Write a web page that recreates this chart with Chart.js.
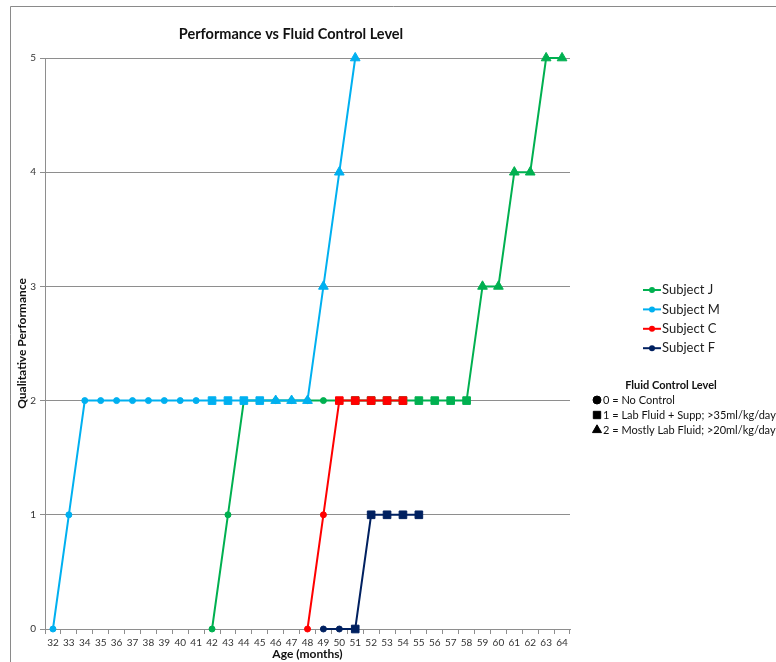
<!DOCTYPE html>
<html>
<head>
<meta charset="utf-8">
<title>Performance vs Fluid Control Level</title>
<script src="https://cdn.jsdelivr.net/npm/chart.js@4/dist/chart.umd.min.js"></script>
<style>
  html, body { margin: 0; padding: 0; background: #fff; }
  #wrap { position: relative; width: 776px; height: 662px; }
</style>
</head>
<body>
<div id="wrap"><canvas id="chart" width="776" height="662"></canvas></div>
<script>
// Age in months (x categories)
const months = ['32','33','34','35','36','37','38','39','40','41','42','43','44','45','46','47',
                '48','49','50','51','52','53','54','55','56','57','58','59','60','61','62','63','64'];

// Qualitative performance per month (null = no observation)
//                 32    33    34    35    36    37    38    39    40    41    42 43 44 45 46 47 48 49 50 51 52 53 54 55 56 57 58 59 60 61 62 63 64
const subjectJ = [null, null, null, null, null, null, null, null, null, null, 0, 1, 2, 2, 2, 2, 2, 2, 2, 2, 2, 2, 2, 2, 2, 2, 2, 3, 3, 4, 4, 5, 5];
const subjectM = [0, 1, 2, 2, 2, 2, 2, 2, 2, 2, 2, 2, 2, 2, 2, 2, 2, 3, 4, 5, null, null, null, null, null, null, null, null, null, null, null, null, null];
const subjectC = [null, null, null, null, null, null, null, null, null, null, null, null, null, null, null, null, 0, 1, 2, 2, 2, 2, 2, null, null, null, null, null, null, null, null, null, null];
const subjectF = [null, null, null, null, null, null, null, null, null, null, null, null, null, null, null, null, null, 0, 0, 0, 1, 1, 1, 1, null, null, null, null, null, null, null, null, null];

// Fluid control level at each observation (0, 1 or 2)
const levelJ = [null, null, null, null, null, null, null, null, null, null, 0, 0, 0, 0, 0, 0, 0, 0, 0, 1, 1, 1, 1, 1, 1, 1, 1, 2, 2, 2, 2, 2, 2];
const levelM = [0, 0, 0, 0, 0, 0, 0, 0, 0, 0, 1, 1, 1, 1, 2, 2, 2, 2, 2, 2, null, null, null, null, null, null, null, null, null, null, null, null, null];
const levelC = [null, null, null, null, null, null, null, null, null, null, null, null, null, null, null, null, 0, 0, 1, 1, 1, 1, 1, null, null, null, null, null, null, null, null, null, null];
const levelF = [null, null, null, null, null, null, null, null, null, null, null, null, null, null, null, null, null, 0, 0, 1, 1, 1, 1, 1, null, null, null, null, null, null, null, null, null];

const yTicks = [0, 1, 2, 3, 4, 5];

const levelNames = ['0 = No Control', '1 = Lab Fluid + Supp; >35ml/kg/day', '2 = Mostly Lab Fluid; >20ml/kg/day'];
const levelStyles = ['circle', 'rect', 'triangle'];
const levelRadius = [3, 5.4, 5.6];

const FONT = 'Lato, "Open Sans", sans-serif';
const GRID = '#8e8e8e';

function seriesDataset(label, values, levels, color, order) {
  return {
    label,
    data: values,
    borderColor: color,
    backgroundColor: color,
    borderWidth: 2,
    order,
    clip: false,
    pointStyle: levels.map(l => l === null ? 'circle' : levelStyles[l]),
    pointRadius: levels.map(l => l === null ? 0 : levelRadius[l]),
    pointHoverRadius: levels.map(l => l === null ? 0 : levelRadius[l]),
    pointBorderWidth: 1,
    pointBorderColor: color,
    pointBackgroundColor: color,
    tension: 0,
    spanGaps: false
  };
}

// Frame, series key and fluid-level key drawn around the plot
const keyPlugin = {
  id: 'sideKey',
  beforeDraw(chart) {
    const ctx = chart.ctx;
    ctx.save();
    ctx.strokeStyle = '#8a8a8a';
    ctx.lineWidth = 1;
    ctx.beginPath();
    ctx.moveTo(10.5, 662);
    ctx.lineTo(10.5, 6.5);
    ctx.lineTo(776, 6.5);
    ctx.stroke();
    ctx.restore();
  },
  afterDraw(chart) {
    const ctx = chart.ctx;
    const draw = Chart.helpers.drawPoint;
    ctx.save();
    ctx.textBaseline = 'middle';
    ctx.textAlign = 'left';
    ctx.font = '13px ' + FONT;
    const x0 = 643, y0 = 290, gap = 19.4;
    chart.data.datasets.forEach((ds, i) => {
      const y = y0 + i * gap;
      ctx.strokeStyle = ds.borderColor;
      ctx.lineWidth = 2;
      ctx.beginPath();
      ctx.moveTo(x0, y);
      ctx.lineTo(x0 + 18, y);
      ctx.stroke();
      ctx.fillStyle = ds.borderColor;
      ctx.beginPath();
      ctx.arc(x0 + 9, y, 3, 0, Math.PI * 2);
      ctx.fill();
      ctx.fillStyle = '#222';
      ctx.fillText(ds.label, x0 + 19, y);
    });

    ctx.font = 'bold 11px ' + FONT;
    ctx.textAlign = 'center';
    ctx.fillStyle = '#111';
    ctx.fillText('Fluid Control Level', 671, 385);

    ctx.font = '11px ' + FONT;
    ctx.textAlign = 'left';
    levelNames.forEach((name, i) => {
      const y = 400 + i * 15;
      ctx.fillStyle = '#000';
      ctx.strokeStyle = '#000';
      ctx.lineWidth = 1;
      draw(ctx, { pointStyle: levelStyles[i], radius: [4, 5.2, 5.2][i], rotation: 0, borderWidth: 1 }, 597, y);
      ctx.fillStyle = '#111';
      ctx.fillText(name, 603, y);
    });
    ctx.restore();
  }
};

new Chart(document.getElementById('chart'), {
  type: 'line',
  data: {
    labels: months,
    datasets: [
      seriesDataset('Subject J', subjectJ, levelJ, '#00b050', 4),
      seriesDataset('Subject M', subjectM, levelM, '#00b0f0', 3),
      seriesDataset('Subject C', subjectC, levelC, '#ff0000', 2),
      seriesDataset('Subject F', subjectF, levelF, '#002060', 1)
    ]
  },
  options: {
    responsive: false,
    animation: false,
    layout: { padding: { left: 12, right: 206, top: 0, bottom: 0 } },
    plugins: {
      legend: { display: false },
      tooltip: { enabled: false },
      title: {
        display: true,
        text: 'Performance vs Fluid Control Level',
        color: '#111',
        font: { family: FONT, size: 14.5, weight: 'bold' },
        padding: { top: 26, bottom: 14.6 }
      }
    },
    scales: {
      x: {
        type: 'category',
        offset: true,
        grid: {
          offset: true,
          drawOnChartArea: false,
          drawTicks: true,
          tickLength: 5,
          color: GRID
        },
        border: { display: true, color: GRID, width: 1 },
        ticks: {
          autoSkip: false,
          maxRotation: 0,
          minRotation: 0,
          padding: 3,
          color: '#333',
          font: { family: FONT, size: 10 }
        },
        title: {
          display: true,
          text: 'Age (months)',
          color: '#111',
          font: { family: FONT, size: 12, weight: 'bold' },
          padding: { top: 0, bottom: 1 }
        },
        afterFit(scale) { scale.height = 33; }
      },
      y: {
        min: 0,
        max: 5,
        afterBuildTicks(scale) { scale.ticks = yTicks.map(v => ({ value: v })); },
        grid: { color: GRID, tickLength: 5, lineWidth: 1 },
        border: { display: true, color: GRID, width: 1 },
        ticks: {
          padding: 4,
          color: '#333',
          font: { family: FONT, size: 10 }
        },
        title: {
          display: true,
          text: 'Qualitative Performance',
          color: '#111',
          font: { family: FONT, size: 12, weight: 'bold' },
          padding: { top: 3, bottom: 0 }
        },
        afterFit(scale) { scale.width = 33; }
      }
    }
  },
  plugins: [keyPlugin]
});
</script>
</body>
</html>
